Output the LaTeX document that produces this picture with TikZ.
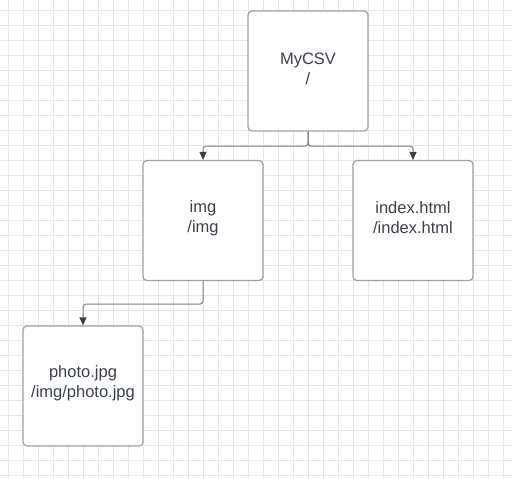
\documentclass[tikz,border=0pt]{standalone}
\usepackage{fontspec}
\setmainfont{Liberation Sans}
\usetikzlibrary{arrows.meta}
\definecolor{gridc}{HTML}{E6E6E6}
\definecolor{boxc}{HTML}{9DA1A6}
\definecolor{linec}{HTML}{7A7F85}
\definecolor{txtc}{HTML}{3A414A}
\tikzset{
  filebox/.style={draw=boxc, line width=1.2pt, fill=white, rounded corners=4pt,
    minimum width=120pt, minimum height=120pt, inner sep=0pt},
  filetext/.style={align=center, text=txtc, inner sep=0pt,
    font=\fontsize{16.5}{20}\selectfont},
  conn/.style={draw=linec, line width=1pt, rounded corners=3pt,
    -{Triangle[length=8pt,width=7pt,color=txtc]}}
}
\begin{document}
\begin{tikzpicture}[x=1pt,y=-1pt]
\useasboundingbox (0,0) rectangle (512,479);
\fill[white] (0,0) rectangle (512,479);
\begin{scope}
\clip (0,0) rectangle (512,479);
\foreach \k in {0,...,33} {\draw[gridc, line width=0.8pt] ({8+15*\k},0) -- ({8+15*\k},479);}
\foreach \k in {0,...,31} {\draw[gridc, line width=0.8pt] (0,{10+15*\k}) -- (512,{10+15*\k});}
\end{scope}
\node[filebox] (csv) at (308,71) {};
\node[filebox] (img) at (203,220.5) {};
\node[filebox] (idx) at (413,220.5) {};
\node[filebox] (photo) at (83,386) {};
\node[filetext] (csvt) at ([yshift=2.5pt]csv.center) {MyCSV\\/};
\node[filetext] (imgt) at ([yshift=2.5pt]img.center) {img\\/img};
\node[filetext] (idxt) at ([yshift=2.5pt]idx.center) {index.html\\/index.html};
\node[filetext] (photot) at ([yshift=2.5pt]photo.center) {photo.jpg\\/img/photo.jpg};
\draw[conn] (csv.south) -- ++(0,14.5) -| (img.north);
\draw[conn] (csv.south) -- ++(0,14.5) -| (idx.north);
\draw[conn] (img.south) -- ++(0,23) -| (photo.north);
\end{tikzpicture}
\end{document}
